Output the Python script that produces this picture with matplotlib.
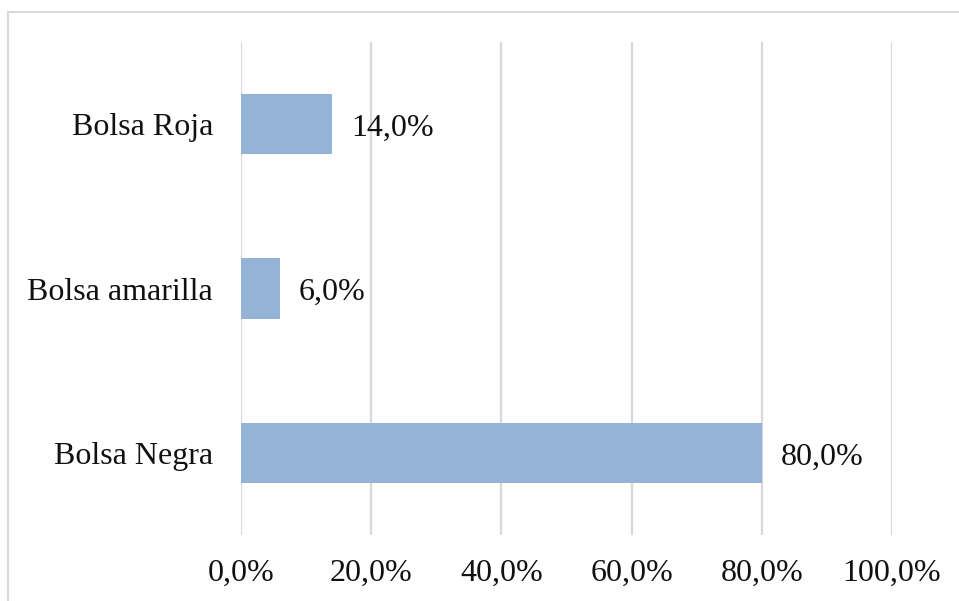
import matplotlib.pyplot as plt
from matplotlib.patches import Rectangle
from matplotlib.ticker import FuncFormatter

categories = ["Bolsa Negra", "Bolsa amarilla", "Bolsa Roja"]
values = [80.0, 6.0, 14.0]
xticks = [0, 20, 40, 60, 80, 100]

plt.rcParams['font.family'] = ['Liberation Serif', 'DejaVu Serif']

W, H = 959, 601
fig = plt.figure(figsize=(W / 100, H / 100), dpi=100)
ax = fig.add_axes([241 / W, 1 - 535 / H, (892 - 241) / W, (535 - 42) / H])

ypos = list(range(len(categories)))
ax.barh(ypos, values, height=0.367, color='#95b3d7', zorder=3)

for y, v in zip(ypos, values):
    ax.annotate(f"{v:.1f}%".replace('.', ','), (v, y), xytext=(13.5, -3),
                textcoords='offset points', va='center', ha='left',
                fontsize=23, color='#111111')

ax.set_xlim(0, 100)
ax.set_ylim(-0.5, 2.5)
ax.set_xticks(xticks)
ax.xaxis.set_major_formatter(FuncFormatter(lambda x, p: f"{x:.1f}%".replace('.', ',')))
ax.set_yticks(ypos)
ax.set_yticklabels(categories)
ax.tick_params(axis='both', length=0, labelsize=23, labelcolor='#111111')
ax.tick_params(axis='x', pad=17)
ax.tick_params(axis='y', pad=20)
ax.grid(axis='x', color='#d9d9d9', linewidth=1.6, zorder=0)
for s in ax.spines.values():
    s.set_visible(False)

# outer chart frame
fig.patches.append(Rectangle((8 / W, -0.1), 1.2, 1 - 12 / H + 0.1, transform=fig.transFigure,
                             fill=False, edgecolor='#d9d9d9', linewidth=1.5))

fig.savefig('out.png', dpi=100, facecolor='white')
